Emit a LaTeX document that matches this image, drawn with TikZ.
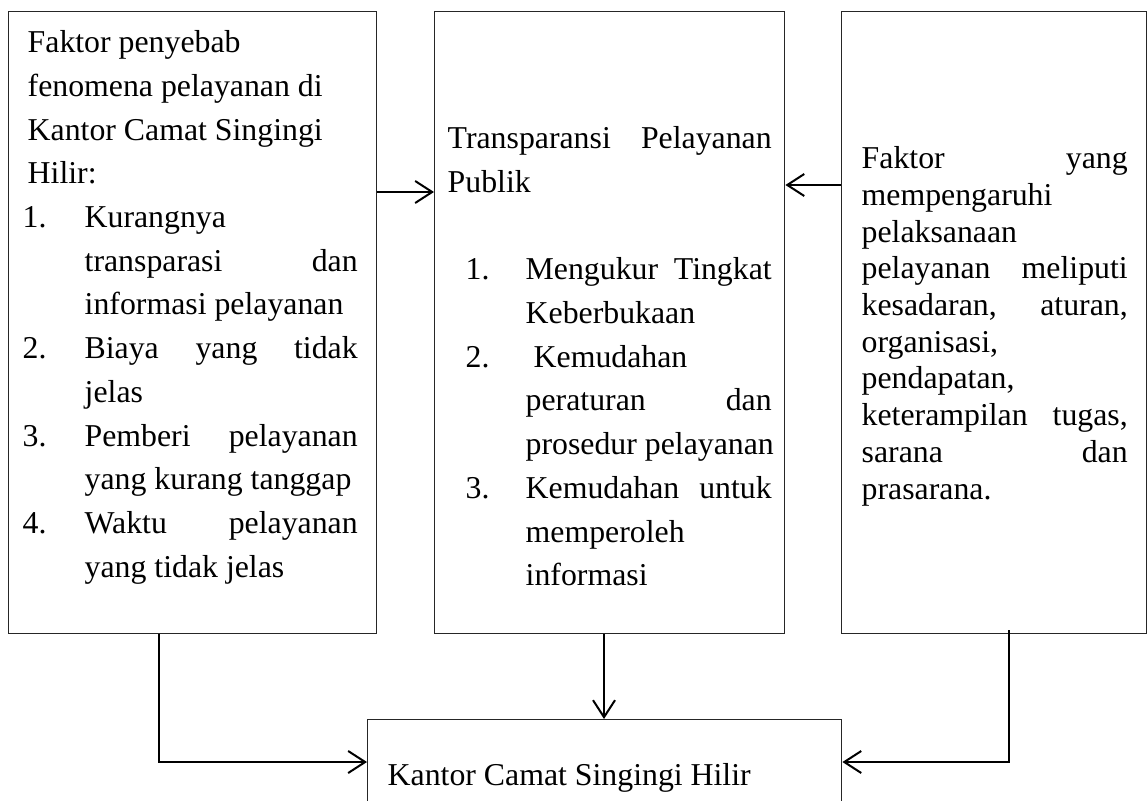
\documentclass[tikz,border=0pt]{standalone}
\usepackage{fontspec}
\setmainfont{Liberation Serif}
\usetikzlibrary{arrows.meta}
\newcommand\LnR[2]{\hbox{\hskip#1pt #2}}
\newcommand\LnJ[3]{\hbox{\hskip#1pt\hbox to #2pt{#3}}}
\newcommand\ItJ[5]{\hbox{\hskip#1pt\hbox to #2pt{#3\hfil}\hbox to #4pt{#5}}}
\newcommand\ItR[4]{\hbox{\hskip#1pt\hbox to #2pt{#3\hfil}#4}}
\newcommand\FirstLn[1]{\hbox{\vrule height#1pt width0pt}\vskip-\baselineskip}
\newcommand\BoxW[1]{\hrule height0pt depth0pt width#1pt}
\tikzset{
  box/.style={draw=black!85, line width=1.4pt, inner sep=0pt, anchor=north west},
  arr/.style={line width=2pt, -{Straight Barb[length=17pt,width=22pt]}},
}
\begin{document}
\begin{tikzpicture}[x=1pt,y=-1pt]
\useasboundingbox (0,0) rectangle (1147,800);
\clip (0,0) rectangle (1147,800);
\fontsize{31.8}{43.7}\selectfont
% left box
\node[box] (L) at (8,11) {\vbox to 622pt{
  \baselineskip=43.7pt\lineskiplimit=-1000pt\lineskip=0pt
  \FirstLn{41}
  \LnR{19}{Faktor penyebab}
  \LnR{19}{fenomena pelayanan di}
  \LnR{19}{Kantor Camat Singingi}
  \LnR{19}{Hilir:}
  \ItR{14}{62}{1.}{Kurangnya}
  \LnJ{76}{273}{transparasi dan}
  \LnR{76}{informasi pelayanan}
  \ItJ{14}{62}{2.}{273}{Biaya yang tidak}
  \LnR{76}{jelas}
  \ItJ{14}{62}{3.}{273}{Pemberi pelayanan}
  \LnR{76}{yang kurang tanggap}
  \ItJ{14}{62}{4.}{273}{Waktu pelayanan}
  \LnR{76}{yang tidak jelas}
  \BoxW{368}
  \vfil}};
% middle box
\node[box] (M) at (434,11) {\vbox to 622pt{
  \baselineskip=43.7pt\lineskiplimit=-1000pt\lineskip=0pt
  \FirstLn{137}
  \LnJ{13}{324}{Transparansi Pelayanan}
  \LnR{13}{Publik}
  \hbox{}
  \ItJ{31}{60}{1.}{246}{Mengukur Tingkat}
  \LnR{91}{Keberbukaan}
  \ItR{31}{60}{2.}{\hskip8pt Kemudahan}
  \LnJ{91}{246}{peraturan dan}
  \LnR{91}{prosedur pelayanan}
  \ItJ{31}{60}{3.}{246}{Kemudahan untuk}
  \LnR{91}{memperoleh}
  \LnR{91}{informasi}
  \BoxW{350}
  \vfil}};
% right box
\node[box] (R) at (841,11) {\vbox to 622pt{
  \baselineskip=36.7pt\lineskiplimit=-1000pt\lineskip=0pt
  \FirstLn{157}
  \LnJ{20}{266}{Faktor yang}
  \LnR{20}{mempengaruhi}
  \LnR{20}{pelaksanaan}
  \LnJ{20}{266}{pelayanan meliputi}
  \LnJ{20}{266}{kesadaran, aturan,}
  \LnR{20}{organisasi,}
  \LnR{20}{pendapatan,}
  \LnJ{20}{266}{keterampilan tugas,}
  \LnJ{20}{266}{sarana dan}
  \LnR{20}{prasarana.}
  \BoxW{305}
  \vfil}};
% bottom box
\node[box] (B) at (367,719) {\vbox to 100pt{
  \baselineskip=43.7pt\lineskiplimit=-1000pt\lineskip=0pt
  \FirstLn{66}
  \LnR{20}{Kantor Camat Singingi Hilir}
  \BoxW{474}
  \vfil}};
% connectors
\draw[arr] (L.north east |- 0,192) -- (M.north west |- 0,192);
\draw[arr] (R.north west |- 0,185) -- (M.north east |- 0,185);
\draw[arr] (M.south -| 604,0) -- (B.north -| 604,0);
\coordinate (lc) at (159,762);
\coordinate (rc) at (1009,762);
\draw[arr] (L.south -| lc) -- (lc) -- (B.west |- lc);
\draw[arr] ([yshift=4pt]R.south -| rc) -- (rc) -- (B.east |- rc);
\end{tikzpicture}
\end{document}
